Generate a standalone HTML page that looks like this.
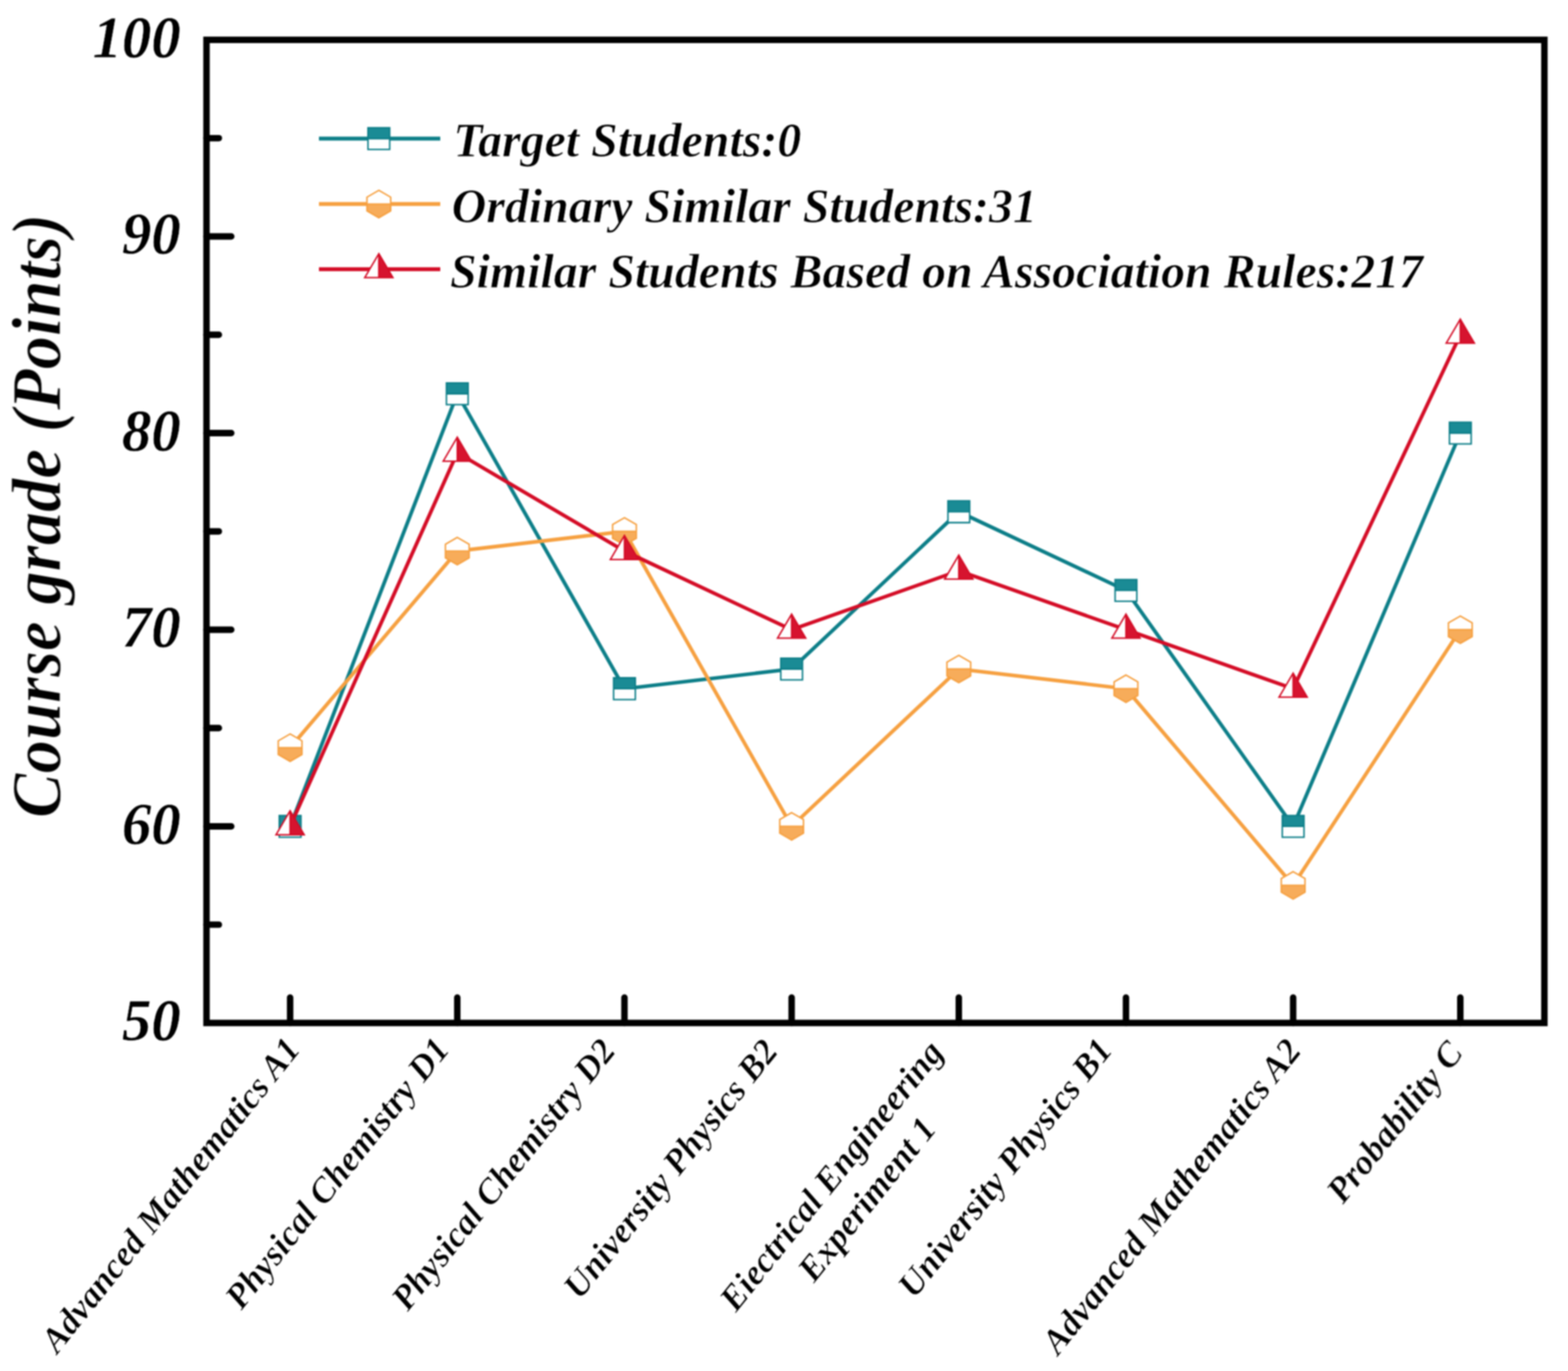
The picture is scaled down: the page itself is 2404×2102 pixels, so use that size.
<!DOCTYPE html>
<html lang="en"><head><meta charset="utf-8"><title>Course grade comparison</title>
<style>
html,body{margin:0;padding:0;background:#fff;}
body{width:2404px;height:2102px;overflow:hidden;}
svg{display:block;}
text{font-family:"Liberation Serif","Times New Roman",Times,serif;font-weight:bold;font-style:italic;fill:#000;}
text{stroke:#fff;stroke-width:0.012em;stroke-linejoin:round;}
.yt{font-size:90px;text-anchor:end;stroke-width:0.006em;}
.xl{font-size:54.4px;text-anchor:end;}
.lg{font-size:74.5px;}
.ttl{font-size:102.3px;text-anchor:middle;}
#chart{filter:blur(1.1px);}
</style></head><body>
<svg width="2404" height="2102" viewBox="0 0 2404 2102">
<rect x="0" y="0" width="2404" height="2102" fill="#fff"/>
<g id="chart">
<g id="series" stroke-linejoin="miter">
<polyline points="444.8,1266.94 701.1,603.73 957.4,1055.92 1213.7,1025.77 1470,784.6 1726.3,905.19 1982.6,1266.94 2238.9,664.02" fill="none" stroke="#0c7e88" stroke-width="5.6" stroke-linejoin="round"/>
<rect x="428.15" y="1250.29" width="33.3" height="33.3" fill="#fff"/><rect x="428.15" y="1250.29" width="33.3" height="16.65" fill="#1a8b95"/><path d="M428.15,1250.29h33.3v33.3h-33.3zM428.15,1266.94h33.3" fill="none" stroke="#0c7e88" stroke-width="2.3"/>
<rect x="684.45" y="587.08" width="33.3" height="33.3" fill="#fff"/><rect x="684.45" y="587.08" width="33.3" height="16.65" fill="#1a8b95"/><path d="M684.45,587.08h33.3v33.3h-33.3zM684.45,603.73h33.3" fill="none" stroke="#0c7e88" stroke-width="2.3"/>
<rect x="940.75" y="1039.27" width="33.3" height="33.3" fill="#fff"/><rect x="940.75" y="1039.27" width="33.3" height="16.65" fill="#1a8b95"/><path d="M940.75,1039.27h33.3v33.3h-33.3zM940.75,1055.92h33.3" fill="none" stroke="#0c7e88" stroke-width="2.3"/>
<rect x="1197.05" y="1009.12" width="33.3" height="33.3" fill="#fff"/><rect x="1197.05" y="1009.12" width="33.3" height="16.65" fill="#1a8b95"/><path d="M1197.05,1009.12h33.3v33.3h-33.3zM1197.05,1025.77h33.3" fill="none" stroke="#0c7e88" stroke-width="2.3"/>
<rect x="1453.35" y="767.95" width="33.3" height="33.3" fill="#fff"/><rect x="1453.35" y="767.95" width="33.3" height="16.65" fill="#1a8b95"/><path d="M1453.35,767.95h33.3v33.3h-33.3zM1453.35,784.6h33.3" fill="none" stroke="#0c7e88" stroke-width="2.3"/>
<rect x="1709.65" y="888.54" width="33.3" height="33.3" fill="#fff"/><rect x="1709.65" y="888.54" width="33.3" height="16.65" fill="#1a8b95"/><path d="M1709.65,888.54h33.3v33.3h-33.3zM1709.65,905.19h33.3" fill="none" stroke="#0c7e88" stroke-width="2.3"/>
<rect x="1965.95" y="1250.29" width="33.3" height="33.3" fill="#fff"/><rect x="1965.95" y="1250.29" width="33.3" height="16.65" fill="#1a8b95"/><path d="M1965.95,1250.29h33.3v33.3h-33.3zM1965.95,1266.94h33.3" fill="none" stroke="#0c7e88" stroke-width="2.3"/>
<rect x="2222.25" y="647.37" width="33.3" height="33.3" fill="#fff"/><rect x="2222.25" y="647.37" width="33.3" height="16.65" fill="#1a8b95"/><path d="M2222.25,647.37h33.3v33.3h-33.3zM2222.25,664.02h33.3" fill="none" stroke="#0c7e88" stroke-width="2.3"/>
<polyline points="444.8,1146.36 701.1,844.9 957.4,814.75 1213.7,1266.94 1470,1025.77 1726.3,1055.92 1982.6,1357.38 2238.9,965.48" fill="none" stroke="#f6a040" stroke-width="5.6" stroke-linejoin="round"/>
<polygon points="444.8,1125.36 462.99,1135.86 462.99,1156.86 444.8,1167.36 426.61,1156.86 426.61,1135.86" fill="#fff"/><polygon points="426.61,1146.36 462.99,1146.36 462.99,1156.86 444.8,1167.36 426.61,1156.86" fill="#f7ac5a"/><path d="M444.8,1125.36L462.99,1135.86V1156.86L444.8,1167.36L426.61,1156.86V1135.86zM426.61,1146.36H462.99" fill="none" stroke="#f6a040" stroke-width="2.3"/>
<polygon points="701.1,823.9 719.29,834.4 719.29,855.4 701.1,865.9 682.91,855.4 682.91,834.4" fill="#fff"/><polygon points="682.91,844.9 719.29,844.9 719.29,855.4 701.1,865.9 682.91,855.4" fill="#f7ac5a"/><path d="M701.1,823.9L719.29,834.4V855.4L701.1,865.9L682.91,855.4V834.4zM682.91,844.9H719.29" fill="none" stroke="#f6a040" stroke-width="2.3"/>
<polygon points="957.4,793.75 975.59,804.25 975.59,825.25 957.4,835.75 939.21,825.25 939.21,804.25" fill="#fff"/><polygon points="939.21,814.75 975.59,814.75 975.59,825.25 957.4,835.75 939.21,825.25" fill="#f7ac5a"/><path d="M957.4,793.75L975.59,804.25V825.25L957.4,835.75L939.21,825.25V804.25zM939.21,814.75H975.59" fill="none" stroke="#f6a040" stroke-width="2.3"/>
<polygon points="1213.7,1245.94 1231.89,1256.44 1231.89,1277.44 1213.7,1287.94 1195.51,1277.44 1195.51,1256.44" fill="#fff"/><polygon points="1195.51,1266.94 1231.89,1266.94 1231.89,1277.44 1213.7,1287.94 1195.51,1277.44" fill="#f7ac5a"/><path d="M1213.7,1245.94L1231.89,1256.44V1277.44L1213.7,1287.94L1195.51,1277.44V1256.44zM1195.51,1266.94H1231.89" fill="none" stroke="#f6a040" stroke-width="2.3"/>
<polygon points="1470,1004.77 1488.19,1015.27 1488.19,1036.27 1470,1046.77 1451.81,1036.27 1451.81,1015.27" fill="#fff"/><polygon points="1451.81,1025.77 1488.19,1025.77 1488.19,1036.27 1470,1046.77 1451.81,1036.27" fill="#f7ac5a"/><path d="M1470,1004.77L1488.19,1015.27V1036.27L1470,1046.77L1451.81,1036.27V1015.27zM1451.81,1025.77H1488.19" fill="none" stroke="#f6a040" stroke-width="2.3"/>
<polygon points="1726.3,1034.92 1744.49,1045.42 1744.49,1066.42 1726.3,1076.92 1708.11,1066.42 1708.11,1045.42" fill="#fff"/><polygon points="1708.11,1055.92 1744.49,1055.92 1744.49,1066.42 1726.3,1076.92 1708.11,1066.42" fill="#f7ac5a"/><path d="M1726.3,1034.92L1744.49,1045.42V1066.42L1726.3,1076.92L1708.11,1066.42V1045.42zM1708.11,1055.92H1744.49" fill="none" stroke="#f6a040" stroke-width="2.3"/>
<polygon points="1982.6,1336.38 2000.79,1346.88 2000.79,1367.88 1982.6,1378.38 1964.41,1367.88 1964.41,1346.88" fill="#fff"/><polygon points="1964.41,1357.38 2000.79,1357.38 2000.79,1367.88 1982.6,1378.38 1964.41,1367.88" fill="#f7ac5a"/><path d="M1982.6,1336.38L2000.79,1346.88V1367.88L1982.6,1378.38L1964.41,1367.88V1346.88zM1964.41,1357.38H2000.79" fill="none" stroke="#f6a040" stroke-width="2.3"/>
<polygon points="2238.9,944.48 2257.09,954.98 2257.09,975.98 2238.9,986.48 2220.71,975.98 2220.71,954.98" fill="#fff"/><polygon points="2220.71,965.48 2257.09,965.48 2257.09,975.98 2238.9,986.48 2220.71,975.98" fill="#f7ac5a"/><path d="M2238.9,944.48L2257.09,954.98V975.98L2238.9,986.48L2220.71,975.98V954.98zM2220.71,965.48H2257.09" fill="none" stroke="#f6a040" stroke-width="2.3"/>
<polyline points="444.8,1266.94 701.1,694.17 957.4,844.9 1213.7,965.48 1470,875.04 1726.3,965.48 1982.6,1055.92 2238.9,513.29" fill="none" stroke="#d40c26" stroke-width="5.6" stroke-linejoin="round"/>
<polygon points="444.8,1243.04 466.4,1279.84 423.2,1279.84" fill="#fff"/><polygon points="444.8,1243.04 466.4,1279.84 444.8,1279.84" fill="#d6142f"/><path d="M444.8,1243.04L466.4,1279.84H423.2zM444.8,1243.04V1279.84" fill="none" stroke="#d40c26" stroke-width="2.3"/>
<polygon points="701.1,670.27 722.7,707.07 679.5,707.07" fill="#fff"/><polygon points="701.1,670.27 722.7,707.07 701.1,707.07" fill="#d6142f"/><path d="M701.1,670.27L722.7,707.07H679.5zM701.1,670.27V707.07" fill="none" stroke="#d40c26" stroke-width="2.3"/>
<polygon points="957.4,821 979,857.8 935.8,857.8" fill="#fff"/><polygon points="957.4,821 979,857.8 957.4,857.8" fill="#d6142f"/><path d="M957.4,821L979,857.8H935.8zM957.4,821V857.8" fill="none" stroke="#d40c26" stroke-width="2.3"/>
<polygon points="1213.7,941.58 1235.3,978.38 1192.1,978.38" fill="#fff"/><polygon points="1213.7,941.58 1235.3,978.38 1213.7,978.38" fill="#d6142f"/><path d="M1213.7,941.58L1235.3,978.38H1192.1zM1213.7,941.58V978.38" fill="none" stroke="#d40c26" stroke-width="2.3"/>
<polygon points="1470,851.14 1491.6,887.94 1448.4,887.94" fill="#fff"/><polygon points="1470,851.14 1491.6,887.94 1470,887.94" fill="#d6142f"/><path d="M1470,851.14L1491.6,887.94H1448.4zM1470,851.14V887.94" fill="none" stroke="#d40c26" stroke-width="2.3"/>
<polygon points="1726.3,941.58 1747.9,978.38 1704.7,978.38" fill="#fff"/><polygon points="1726.3,941.58 1747.9,978.38 1726.3,978.38" fill="#d6142f"/><path d="M1726.3,941.58L1747.9,978.38H1704.7zM1726.3,941.58V978.38" fill="none" stroke="#d40c26" stroke-width="2.3"/>
<polygon points="1982.6,1032.02 2004.2,1068.82 1961,1068.82" fill="#fff"/><polygon points="1982.6,1032.02 2004.2,1068.82 1982.6,1068.82" fill="#d6142f"/><path d="M1982.6,1032.02L2004.2,1068.82H1961zM1982.6,1032.02V1068.82" fill="none" stroke="#d40c26" stroke-width="2.3"/>
<polygon points="2238.9,489.39 2260.5,526.19 2217.3,526.19" fill="#fff"/><polygon points="2238.9,489.39 2260.5,526.19 2238.9,526.19" fill="#d6142f"/><path d="M2238.9,489.39L2260.5,526.19H2217.3zM2238.9,489.39V526.19" fill="none" stroke="#d40c26" stroke-width="2.3"/>
</g>
<g id="ticks" stroke="#000" stroke-width="9.9" stroke-linecap="round">
<line x1="316.6" y1="362.56" x2="354.55" y2="362.56"/>
<line x1="316.6" y1="664.02" x2="354.55" y2="664.02"/>
<line x1="316.6" y1="965.48" x2="354.55" y2="965.48"/>
<line x1="316.6" y1="1266.94" x2="354.55" y2="1266.94"/>
<line x1="316.6" y1="211.83" x2="335.55" y2="211.83"/>
<line x1="316.6" y1="513.29" x2="335.55" y2="513.29"/>
<line x1="316.6" y1="814.75" x2="335.55" y2="814.75"/>
<line x1="316.6" y1="1116.21" x2="335.55" y2="1116.21"/>
<line x1="316.6" y1="1417.67" x2="335.55" y2="1417.67"/>
<line x1="444.8" y1="1568.4" x2="444.8" y2="1529.55"/>
<line x1="701.1" y1="1568.4" x2="701.1" y2="1529.55"/>
<line x1="957.4" y1="1568.4" x2="957.4" y2="1529.55"/>
<line x1="1213.7" y1="1568.4" x2="1213.7" y2="1529.55"/>
<line x1="1470" y1="1568.4" x2="1470" y2="1529.55"/>
<line x1="1726.3" y1="1568.4" x2="1726.3" y2="1529.55"/>
<line x1="1982.6" y1="1568.4" x2="1982.6" y2="1529.55"/>
<line x1="2238.9" y1="1568.4" x2="2238.9" y2="1529.55"/>
</g>
<rect id="frame" x="316.6" y="61.1" width="2051.2" height="1507.3" fill="none" stroke="#000" stroke-width="9.9"/>
<g id="ylabels">
<text class="yt" x="277" y="87.7">100</text>
<text class="yt" x="277" y="389.16">90</text>
<text class="yt" x="277" y="690.62">80</text>
<text class="yt" x="277" y="992.08">70</text>
<text class="yt" x="277" y="1293.54">60</text>
<text class="yt" x="277" y="1595">50</text>
</g>
<text class="ttl" transform="translate(92.6,790.8) rotate(-90) scale(1,1.055)">Course grade (Points)</text>
<g id="xlabels">
<text class="xl" transform="translate(462.6,1609.2) rotate(-51.3)">Advanced Mathematics A1</text>
<text class="xl" transform="translate(691.2,1609.4) rotate(-51.3)">Physical Chemistry D1</text>
<text class="xl" transform="translate(946.1,1611.4) rotate(-51.3)">Physical Chemistry D2</text>
<text class="xl" transform="translate(1195,1612.2) rotate(-51.3)">University Physics B2</text>
<text class="xl" transform="translate(1448.5,1613.8) rotate(-51.3)">Eiectrical Engineering</text>
<text class="xl" transform="translate(1437.8,1731.2) rotate(-51.3)">Experiment 1</text>
<text class="xl" transform="translate(1707.8,1610.5) rotate(-51.3)">University Physics B1</text>
<text class="xl" transform="translate(1997.2,1611.6) rotate(-51.3)">Advanced Mathematics A2</text>
<text class="xl" transform="translate(2245.2,1615.1) rotate(-51.3)">Probability C</text>
</g>
<g id="legend" stroke-linejoin="miter">
<line x1="489" y1="212.5" x2="675" y2="212.5" stroke="#0c7e88" stroke-width="6.0"/>
<rect x="564.15" y="195.85" width="33.3" height="33.3" fill="#fff"/><rect x="564.15" y="195.85" width="33.3" height="16.65" fill="#1a8b95"/><path d="M564.15,195.85h33.3v33.3h-33.3zM564.15,212.5h33.3" fill="none" stroke="#0c7e88" stroke-width="2.3"/>
<text class="lg" transform="translate(695,240.3) scale(0.9852,1)">Target Students:0</text>
<line x1="489" y1="312.8" x2="675" y2="312.8" stroke="#f6a040" stroke-width="6.0"/>
<polygon points="580.8,291.8 598.99,302.3 598.99,323.3 580.8,333.8 562.61,323.3 562.61,302.3" fill="#fff"/><polygon points="562.61,312.8 598.99,312.8 598.99,323.3 580.8,333.8 562.61,323.3" fill="#f7ac5a"/><path d="M580.8,291.8L598.99,302.3V323.3L580.8,333.8L562.61,323.3V302.3zM562.61,312.8H598.99" fill="none" stroke="#f6a040" stroke-width="2.3"/>
<text class="lg" transform="translate(692.5,340.6) scale(0.9852,1)">Ordinary Similar Students:31</text>
<line x1="489" y1="412.8" x2="675" y2="412.8" stroke="#d40c26" stroke-width="6.0"/>
<polygon points="580.8,388.9 602.4,425.7 559.2,425.7" fill="#fff"/><polygon points="580.8,388.9 602.4,425.7 580.8,425.7" fill="#d6142f"/><path d="M580.8,388.9L602.4,425.7H559.2zM580.8,388.9V425.7" fill="none" stroke="#d40c26" stroke-width="2.3"/>
<text class="lg" transform="translate(690,440.6) scale(0.9852,1)">Similar Students Based on Association Rules:217</text>
</g>
</g>
</svg></body></html>
